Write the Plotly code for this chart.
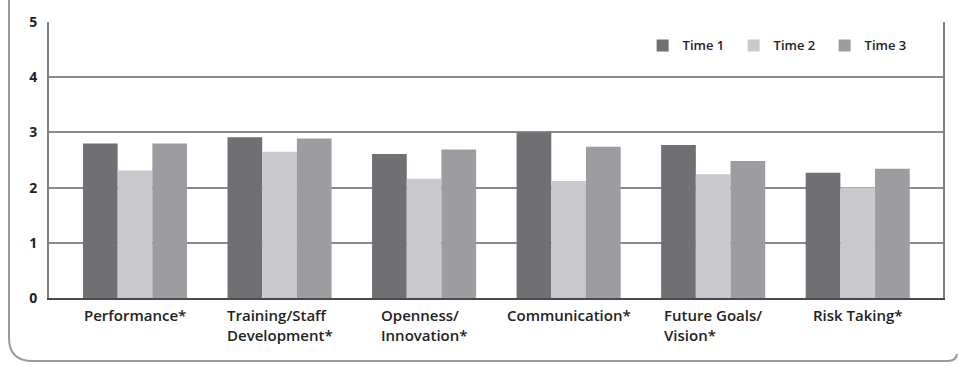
import plotly.graph_objects as go

categories = ["Performance*", "Training/Staff<br>Development*", "Openness/<br>Innovation*",
              "Communication*", "Future Goals/<br>Vision*", "Risk Taking*"]
series_names = ["Time 1", "Time 2", "Time 3"]
time1 = [2.80, 2.91, 2.61, 3.00, 2.77, 2.27]
time2 = [2.31, 2.65, 2.16, 2.12, 2.24, 2.00]
time3 = [2.80, 2.89, 2.69, 2.74, 2.48, 2.34]
y_ticks = [0, 1, 2, 3, 4, 5]

colors = ["#6f6f74", "#c9c9cd", "#9d9da1"]
FONT = "Open Sans"

fig = go.Figure()
for name, vals, col in zip(series_names, [time1, time2, time3], colors):
    fig.add_trace(go.Bar(x=list(range(len(categories))), y=vals, name=name,
                         marker=dict(color=col, line=dict(width=0))))

# category labels: block centred under each group, lines left-aligned
for i, lab in enumerate(categories):
    fig.add_annotation(x=i, xref="x", y=0, yref="paper", yanchor="top", yshift=-5,
                       xanchor="center", align="left", text=lab, showarrow=False,
                       font=dict(size=15, family=FONT, weight=600, color="#222222"))

# Outer rounded frame (pixel -> paper)
L, T, W, H = 49, 22, 894, 276
def px(x):
    return (x - L) / W
def py(y):
    return (T + H - y) / H
path = (f"M {px(9)},{py(-5)} L {px(9)},{py(338)} "
        f"Q {px(9)},{py(361)} {px(33)},{py(361)} "
        f"L {px(948)},{py(361)} Q {px(956)},{py(361)} {px(957)},{py(354)}")

fig.update_layout(
    width=958, height=366,
    margin=dict(l=L, r=958 - L - W, t=T, b=366 - T - H),
    paper_bgcolor="white", plot_bgcolor="white",
    barmode="group", bargap=0.28, bargroupgap=0,
    font=dict(family=FONT, color="#222222"),
    showlegend=True,
    legend=dict(orientation="h", x=0.664, xanchor="left", y=0.915, yanchor="middle",
                bgcolor="rgba(0,0,0,0)", font=dict(size=13, family=FONT, weight=600),
                entrywidth=46, itemwidth=30, traceorder="normal"),
    xaxis=dict(tickmode="array", tickvals=list(range(len(categories))),
               showticklabels=False,
               range=[-0.595, 5.59], showgrid=False, showline=True, linecolor="#4a4a4a",
               linewidth=2, mirror=False, ticks="", zeroline=False),
    yaxis=dict(range=[0, 5], tickvals=y_ticks, showgrid=True, gridcolor="#8a8a8a",
               gridwidth=2, showline=True, linecolor="#808080", linewidth=2, mirror=True,
               ticks="", zeroline=False, ticklabelstandoff=7,
               tickfont=dict(size=14, family=FONT, weight="bold", color="#222222")),
    shapes=[dict(type="path", xref="paper", yref="paper", path=path,
                 line=dict(color="#9a9a9a", width=2), layer="below")],
)

fig.write_html("out.html")
